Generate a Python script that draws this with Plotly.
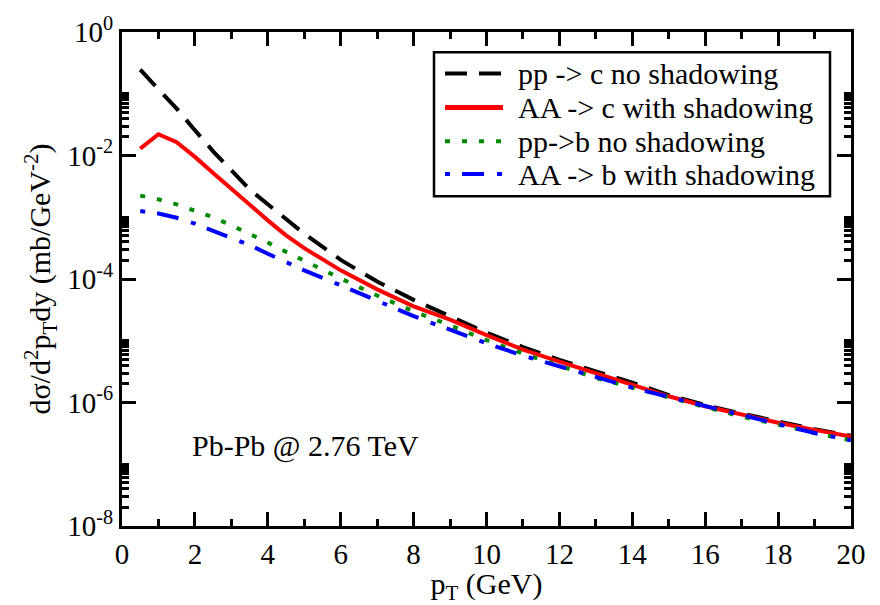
import plotly.graph_objects as go

# transverse momentum grid (GeV)
pt = [0.5, 1.0, 1.5, 2.0, 2.5, 3.0, 3.5, 4.0, 4.5, 5, 6, 7, 8, 9, 10,
      11, 12, 13, 14, 15, 16, 17, 18, 19, 20]

# d sigma / d^2pT dy  (mb/GeV^-2)
pp_c = [2.45e-1, 1.20e-1, 5.75e-2, 2.57e-2, 1.17e-2, 5.75e-3, 2.82e-3, 1.62e-3,
        9.3e-4, 5.4e-4, 2.04e-4, 9.1e-5, 4.6e-5, 2.5e-5, 1.35e-5,
        7.9e-6, 4.9e-6, 3.2e-6, 2.1e-6, 1.32e-6, 9.1e-7, 6.6e-7, 4.9e-7, 3.7e-7, 2.9e-7]
aa_c = [1.29e-2, 2.21e-2, 1.64e-2, 9.5e-3, 5.2e-3, 2.88e-3, 1.58e-3, 8.9e-4,
        5.1e-4, 3.16e-4, 1.38e-4, 6.8e-5, 3.6e-5, 2.2e-5, 1.23e-5,
        7.2e-6, 4.6e-6, 3.0e-6, 1.95e-6, 1.26e-6, 8.7e-7, 6.3e-7, 4.7e-7, 3.6e-7, 2.8e-7]
pp_b = [2.24e-3, 1.95e-3, 1.62e-3, 1.29e-3, 1.0e-3, 7.4e-4, 5.4e-4, 3.9e-4,
        2.75e-4, 1.95e-4, 1.02e-4, 5.4e-5, 3.0e-5, 1.78e-5, 1.02e-5,
        6.2e-6, 3.9e-6, 2.5e-6, 1.74e-6, 1.2e-6, 8.3e-7, 5.9e-7, 4.4e-7, 3.2e-7, 2.45e-7]
aa_b = [1.26e-3, 1.15e-3, 9.8e-4, 7.9e-4, 6.0e-4, 4.7e-4, 3.55e-4, 2.57e-4,
        1.9e-4, 1.38e-4, 7.9e-5, 4.5e-5, 2.5e-5, 1.51e-5, 9.1e-6,
        5.75e-6, 3.9e-6, 2.57e-6, 1.74e-6, 1.23e-6, 8.7e-7, 6.3e-7, 4.5e-7, 3.2e-7, 2.45e-7]

series_names = ["pp -> c no shadowing", "AA -> c with shadowing",
                "pp->b no shadowing", "AA -> b with shadowing"]
series_data = [pp_c, aa_c, pp_b, aa_b]
series_color = ["black", "#ff0000", "#008a00", "#0000ff"]
series_dash = ["22px,12px", "solid", "5px,12px", "5px,12px,22px,13px"]

x_ticks = list(range(0, 21, 2))
y_ticks = [1e-8, 1e-6, 1e-4, 1e-2, 1e0]
y_ticktext = ["10<sup>-8</sup>", "10<sup>-6</sup>", "10<sup>-4</sup>",
              "10<sup>-2</sup>", "10<sup>0</sup>"]
y_minor = [k * m for m in [1e-8, 1e-6, 1e-4, 1e-2] for k in range(2, 11)]

FONT = "Liberation Serif"
W, H = 880, 605
L, R, T, B = 122, 29, 24, 70

fig = go.Figure()
for name, ys, col, dash in zip(series_names, series_data, series_color, series_dash):
    fig.add_trace(go.Scatter(x=pt, y=ys, mode="lines", name=name,
                             line=dict(color=col, width=4, dash=dash),
                             showlegend=False))


def fx(p):
    return (p - L) / (W - L - R)


def fy(p):
    return (H - B - p) / (H - T - B)


# legend box
shapes = [dict(type="rect", xref="paper", yref="paper",
               x0=fx(434), x1=fx(830), y0=fy(194), y1=fy(45),
               line=dict(color="black", width=2.5), fillcolor="white")]
annotations = []
rows = [67, 102, 137, 171]
for name, col, dash, ry in zip(series_names, series_color, series_dash, rows):
    shapes.append(dict(type="line", xref="paper", yref="paper",
                       x0=fx(445), x1=fx(503), y0=fy(ry), y1=fy(ry),
                       line=dict(color=col, width=5 if dash == "solid" else 4,
                                 dash=dash)))
    annotations.append(dict(text=name, xref="paper", yref="paper",
                            x=fx(516), y=fy(ry), xanchor="left", yanchor="middle",
                            showarrow=False, font=dict(family=FONT, size=30, color="black")))

annotations.append(dict(text="Pb-Pb @ 2.76 TeV", xref="paper", yref="paper",
                        x=fx(190), y=fy(452), xanchor="left", yanchor="middle",
                        showarrow=False, font=dict(family=FONT, size=30, color="black")))

axis_common = dict(showline=True, linewidth=3, linecolor="black", mirror="allticks",
                   ticks="inside", ticklen=14, tickwidth=3, tickcolor="black",
                   showgrid=False, zeroline=False,
                   tickfont=dict(family=FONT, size=29, color="black"))

fig.update_layout(
    width=W, height=H,
    margin=dict(l=L, r=R, t=T, b=B),
    plot_bgcolor="white", paper_bgcolor="white",
    font=dict(family=FONT, color="black", size=30),
    showlegend=False,
    xaxis=dict(range=[0, 20], tickvals=x_ticks,
               minor=dict(dtick=1, tick0=0, ticks="inside", ticklen=7, tickwidth=3,
                          tickcolor="black", showgrid=False),
               title=dict(text="p<sub>T</sub> (GeV)", font=dict(family=FONT, size=30),
                          standoff=2),
               **axis_common),
    yaxis=dict(type="log", range=[-8, 0], tickvals=y_ticks, ticktext=y_ticktext,
               minor=dict(tickvals=y_minor, ticks="inside", ticklen=7, tickwidth=3,
                          tickcolor="black", showgrid=False),
               title=dict(text="dσ/d<sup>2</sup>p<sub>T</sub>dy (mb/GeV<sup>-2</sup>)",
                          font=dict(family=FONT, size=30), standoff=8),
               **axis_common),
    shapes=shapes,
    annotations=annotations,
)

fig.write_html("out.html")
